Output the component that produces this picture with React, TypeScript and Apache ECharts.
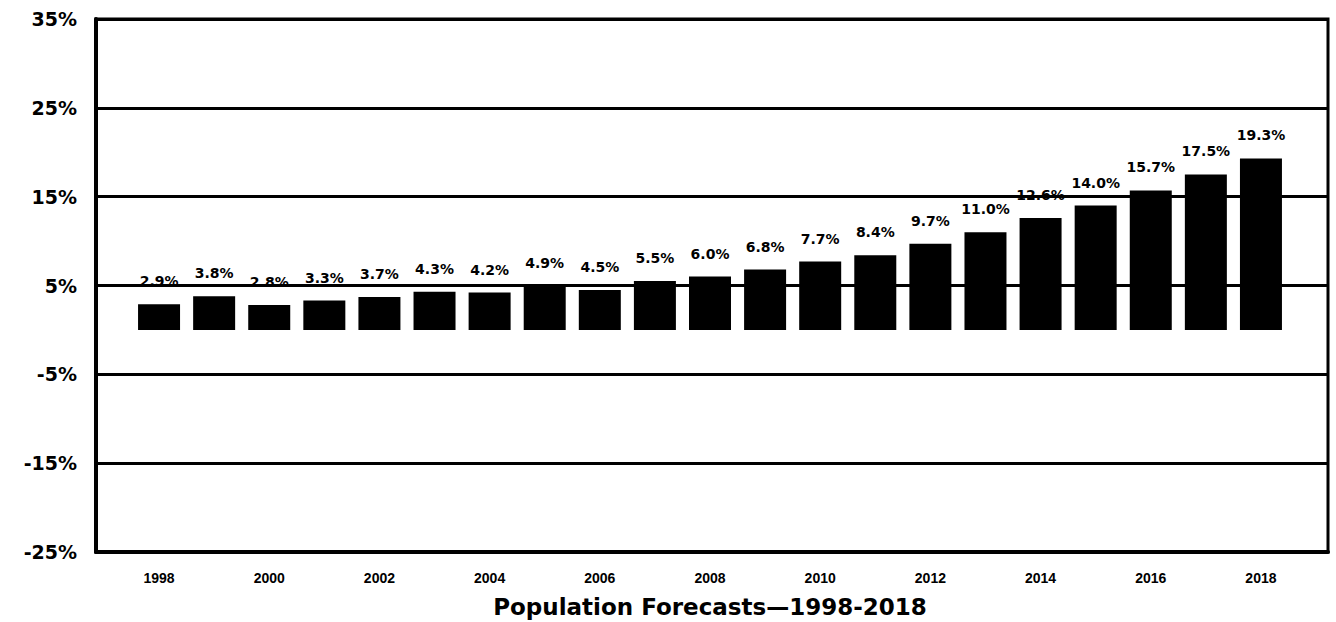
import React, { useEffect, useRef } from "react";
import * as echarts from "echarts";

const years = [
  "1998", "1999", "2000", "2001", "2002", "2003", "2004", "2005", "2006", "2007",
  "2008", "2009", "2010", "2011", "2012", "2013", "2014", "2015", "2016", "2017", "2018",
];
const growth = [
  2.9, 3.8, 2.8, 3.3, 3.7, 4.3, 4.2, 4.9, 4.5, 5.5,
  6.0, 6.8, 7.7, 8.4, 9.7, 11.0, 12.6, 14.0, 15.7, 17.5, 19.3,
];
const yMin = -25;
const yMax = 35;
const yStep = 10;
const xTitle = "Population Forecasts\u20141998-2018";

export default function App() {
  const ref = useRef<HTMLDivElement>(null);
  useEffect(() => {
    if (!ref.current) return;
    const chart = echarts.init(ref.current, null, { renderer: "svg" });
    const span = yMax - yMin;
    chart.setOption({
      animation: false,
      backgroundColor: "#ffffff",
      grid: [
        {
          left: 96, top: 19, width: 1232, height: 533, outerBoundsMode: "none", containLabel: false,
          show: true, borderColor: "#000", borderWidth: 3, backgroundColor: "transparent",
        },
        { left: 131.5, top: 19, width: 1157, height: 533, outerBoundsMode: "none", containLabel: false },
      ],
      xAxis: [
        {
          gridIndex: 0, type: "value", min: 0, max: 1, show: true,
          axisLine: { show: true, onZero: false, lineStyle: { color: "#000", width: 4 } },
          axisTick: { show: false }, axisLabel: { show: false }, splitLine: { show: false },
        },
        {
          gridIndex: 1, type: "category", data: years,
          axisLine: { show: false }, axisTick: { show: false },
          axisLabel: {
            interval: 1, margin: 19, color: "#000",
            fontFamily: "Liberation Sans", fontWeight: "bold", fontSize: 14,
          },
          name: xTitle, nameLocation: "middle", nameGap: 43,
          nameTextStyle: {
            color: "#000", fontFamily: "DejaVu Sans", fontWeight: "bold", fontSize: 23,
          },
        },
      ],
      yAxis: [
        {
          gridIndex: 0, type: "value", min: 0, max: span, interval: yStep,
          axisLine: { show: true, onZero: false, lineStyle: { color: "#000", width: 4 } },
          axisTick: { show: false },
          axisLabel: {
            margin: 19, color: "#000", fontFamily: "DejaVu Sans", fontWeight: "bold", fontSize: 19,
            formatter: (v: number) => `${v + yMin}%`,
          },
          splitLine: { show: true, lineStyle: { color: "#000", width: 3 } },
        },
        {
          gridIndex: 1, type: "value", min: yMin, max: yMax, show: false,
          splitLine: { show: false },
        },
      ],
      series: [
        {
          type: "bar", xAxisIndex: 1, yAxisIndex: 1, data: growth, barWidth: 42,
          itemStyle: { color: "#000" },
          label: {
            show: true, position: "top", distance: 16, color: "#000",
            fontFamily: "DejaVu Sans", fontWeight: "bold", fontSize: 14,
            formatter: (p: any) => `${Number(p.value).toFixed(1)}%`,
          },
        },
      ],
    });
    return () => chart.dispose();
  }, []);
  return <div ref={ref} style={{ width: 1336, height: 622, position: "absolute", left: 0, top: 0 }} />;
}
